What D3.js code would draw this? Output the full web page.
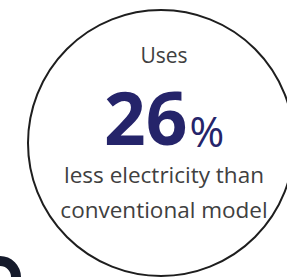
<!DOCTYPE html>
<html>
<head>
<meta charset="utf-8">
<script src="https://cdn.jsdelivr.net/npm/d3@7"></script>
<style>
body{margin:0;background:#fff;overflow:hidden;}
</style>
</head>
<body>
<svg id="chart"></svg>
<script>
//values
var headline = "Uses";
var percent = [26];
var unit = "%";
var captionLines = ["less electricity than", "conventional model"];

var width = 287, height = 278;
var circle = {cx: 161, cy: 143, r: 133};
var font = "'Open Sans', 'Noto Sans', sans-serif";

var svg = d3.select("#chart")
	.attr("width", width)
	.attr("height", height);

//partial dark icon at lower left corner
var iconArc = d3.arc()
	.innerRadius(11)
	.outerRadius(21)
	.startAngle(-Math.PI/2)
	.endAngle(Math.PI/2);
svg.append("path")
	.attr("d", iconArc())
	.attr("transform", "translate(0,277)")
	.style("fill", "#151a2b");

//ring
svg.append("circle")
	.attr("cx", circle.cx)
	.attr("cy", circle.cy)
	.attr("r", circle.r)
	.style("fill", "none")
	.style("stroke", "#1e1e1e")
	.style("stroke-width", 2);

var g = svg.append("g")
	.attr("transform", "translate(" + circle.cx + ",0)");

g.append("text")
	.attr("x", 3)
	.attr("y", 63)
	.attr("text-anchor", "middle")
	.style("font-family", font)
	.style("font-size", "21px")
	.style("fill", "#404040")
	.text(headline);

var big = g.append("text")
	.attr("x", 3)
	.attr("y", 145)
	.attr("text-anchor", "middle")
	.style("font-family", font)
	.style("fill", "#25246a");
big.selectAll("tspan.num")
	.data(percent)
	.enter().append("tspan")
	.attr("class", "num")
	.style("font-size", "73px")
	.style("font-weight", "bold")
	.text(function(d){ return d; });
big.append("tspan")
	.attr("dx", 2)
	.attr("dy", 2)
	.style("font-size", "42px")
	.text(unit);

g.selectAll("text.caption")
	.data(captionLines)
	.enter().append("text")
	.attr("class", "caption")
	.attr("x", 3)
	.attr("y", function(d, i){ return 183 + i*35; })
	.attr("text-anchor", "middle")
	.style("font-family", font)
	.style("font-size", "22.5px")
	.style("fill", "#404040")
	.text(function(d){ return d; });
</script>
</body>
</html>
